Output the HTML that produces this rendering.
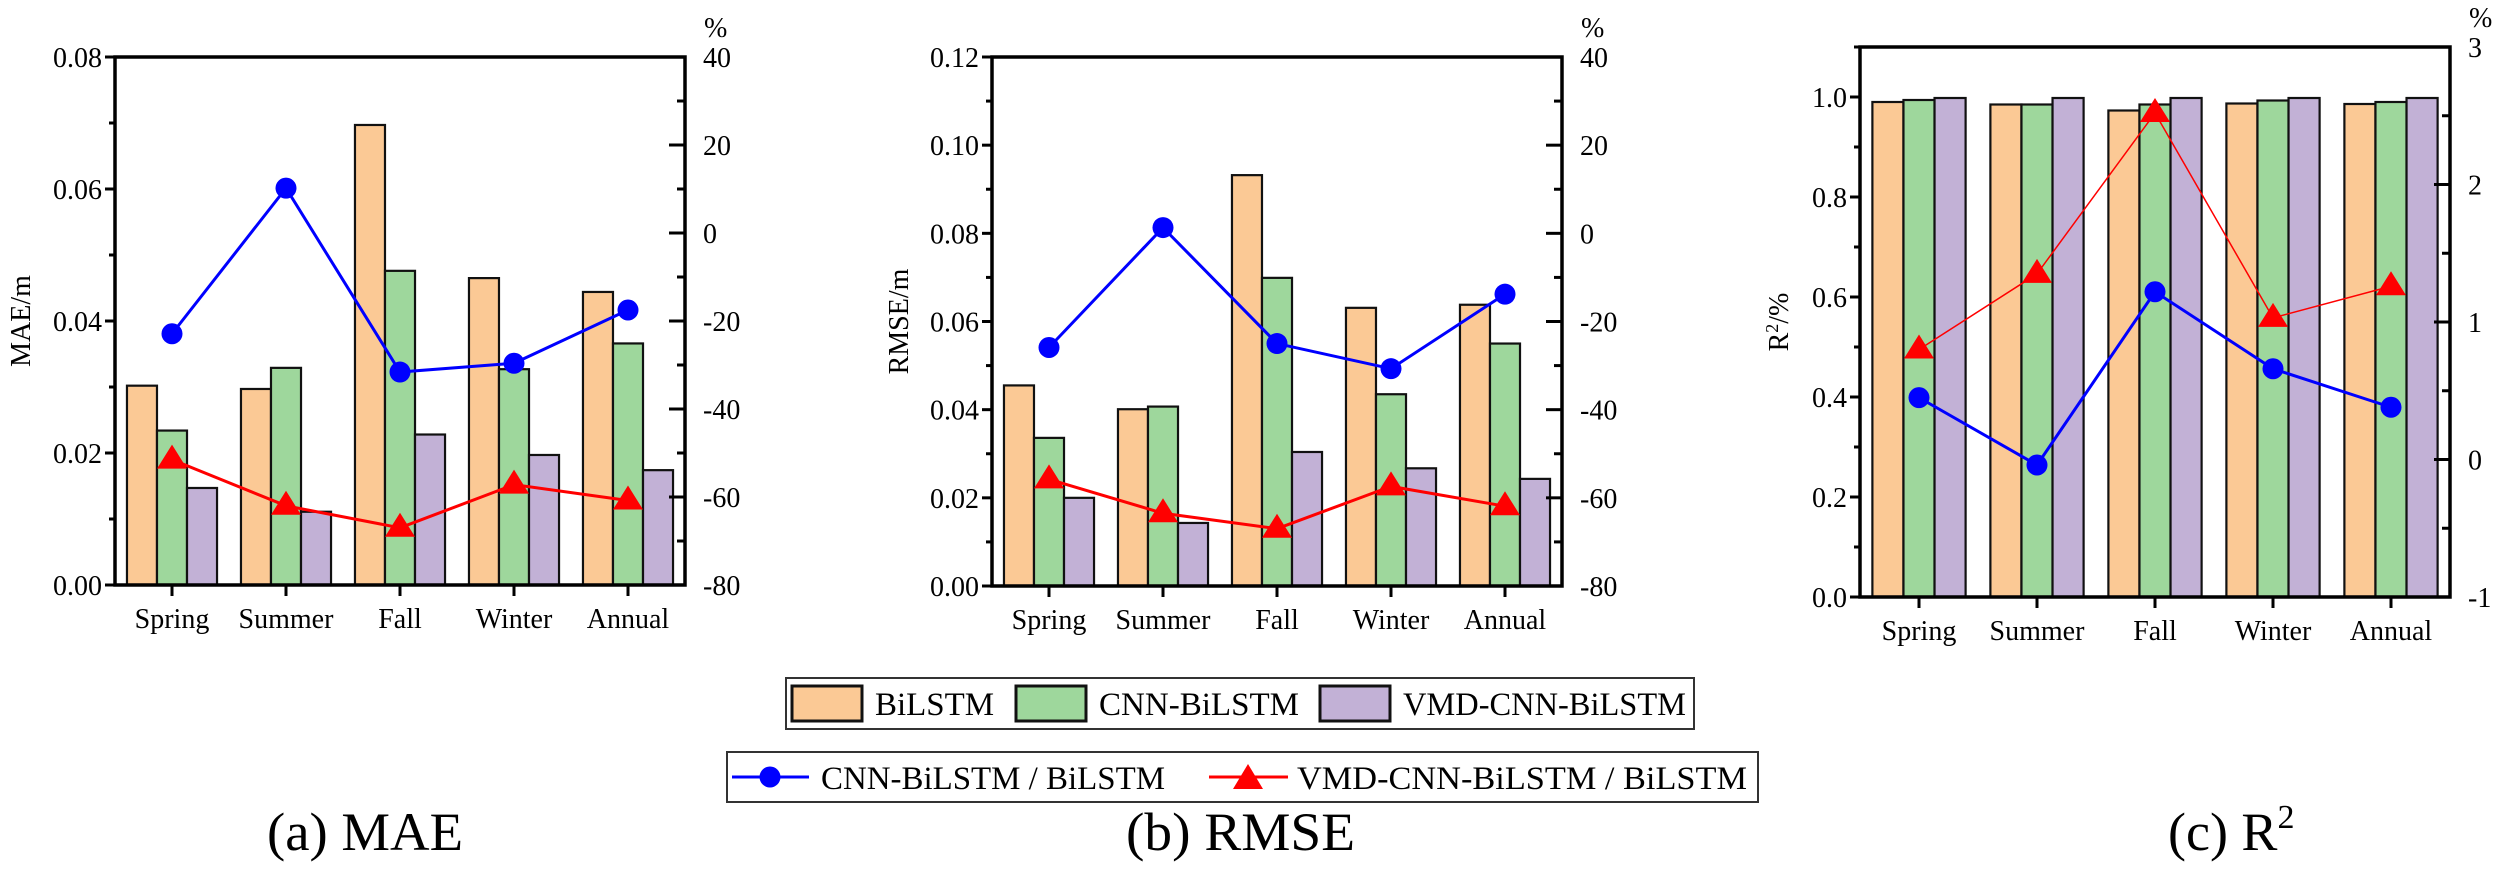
<!DOCTYPE html>
<html><head><meta charset="utf-8"><style>
html,body{margin:0;padding:0;background:#fff;}
svg, svg text{font-family:"Liberation Serif","Times New Roman",Times,serif;}
</style></head><body>
<svg id="fig" width="2500" height="880" viewBox="0 0 2500 880" xmlns="http://www.w3.org/2000/svg" font-family="Liberation Serif, Times New Roman, serif">
<g>
<rect x="786" y="678" width="908" height="51" fill="#fff" stroke="#333" stroke-width="2"/>
<rect x="792" y="686" width="70" height="35" fill="#FBC995" stroke="#111" stroke-width="3"/>
<text x="875" y="715" font-size="33" textLength="119" lengthAdjust="spacingAndGlyphs">BiLSTM</text>
<rect x="1016" y="686" width="70" height="35" fill="#9ED79C" stroke="#111" stroke-width="3"/>
<text x="1099" y="715" font-size="33" textLength="200" lengthAdjust="spacingAndGlyphs">CNN-BiLSTM</text>
<rect x="1320" y="686" width="70" height="35" fill="#C2B1D6" stroke="#111" stroke-width="3"/>
<text x="1403" y="715" font-size="33" textLength="283" lengthAdjust="spacingAndGlyphs">VMD-CNN-BiLSTM</text>
</g>
<g>
<rect x="727" y="752" width="1031" height="50" fill="#fff" stroke="#333" stroke-width="2"/>
<line x1="732" y1="777" x2="809" y2="777" stroke="#0000FF" stroke-width="3"/>
<circle cx="770" cy="777" r="10.5" fill="#0000FF"/>
<text x="821" y="789" font-size="33" textLength="344" lengthAdjust="spacingAndGlyphs">CNN-BiLSTM / BiLSTM</text>
<line x1="1209" y1="777" x2="1288" y2="777" stroke="#FF0000" stroke-width="3"/>
<polygon points="1248,764 1263,789 1233,789" fill="#FF0000"/>
<text x="1297" y="789" font-size="33" textLength="450" lengthAdjust="spacingAndGlyphs">VMD-CNN-BiLSTM / BiLSTM</text>
</g>
<text x="267" y="850" font-size="54" textLength="196" lengthAdjust="spacingAndGlyphs">(a) MAE</text>
<text x="1126" y="850" font-size="54" textLength="229" lengthAdjust="spacingAndGlyphs">(b) RMSE</text>
<text x="2168" y="850" font-size="54">(c) R<tspan font-size="34" dy="-22">2</tspan></text>
</svg>
<script>
const categories = ["Spring","Summer","Fall","Winter","Annual"];
const seriesNames = ["BiLSTM","CNN-BiLSTM","VMD-CNN-BiLSTM"];
const maeBiLSTM = [0.0302,0.0297,0.0697,0.0465,0.0444];
const maeCNN = [0.0234,0.0329,0.0476,0.0327,0.0366];
const maeVMD = [0.0147,0.0111,0.0228,0.0197,0.0174];
const maeRatioCNN = [-22.9,10.2,-31.6,-29.6,-17.5];
const maeRatioVMD = [-51.5,-62,-67,-57.2,-60.8];
const rmseBiLSTM = [0.0455,0.0401,0.0932,0.0631,0.0638];
const rmseCNN = [0.0336,0.0407,0.0699,0.0435,0.0550];
const rmseVMD = [0.0200,0.0143,0.0304,0.0267,0.0243];
const rmseRatioCNN = [-25.9,1.3,-25.0,-30.7,-13.8];
const rmseRatioVMD = [-55.8,-63.5,-67,-57.4,-61.9];
const r2BiLSTM = [0.990,0.985,0.973,0.987,0.986];
const r2CNN = [0.994,0.985,0.985,0.993,0.990];
const r2VMD = [0.998,0.998,0.998,0.998,0.998];
const r2RatioCNN = [0.45,-0.04,1.22,0.66,0.38];
const r2RatioVMD = [0.80,1.35,2.52,1.03,1.26];
const maeTicks = ["0.00","0.02","0.04","0.06","0.08"];
const rmseTicks = ["0.00","0.02","0.04","0.06","0.08","0.10","0.12"];
const r2Ticks = ["0.0","0.2","0.4","0.6","0.8","1.0"];
const pctTicksAB = ["-80","-60","-40","-20","0","20","40"];
const pctTicksC = ["-1","0","1","2","3"];

const NS="http://www.w3.org/2000/svg";
const svg=document.getElementById('fig');
const colors=["#FBC995","#9ED79C","#C2B1D6"];
function mk(tag,attrs,parent){const e=document.createElementNS(NS,tag);for(const k in attrs)e.setAttribute(k,attrs[k]);(parent||svg).appendChild(e);return e;}

function panel(cfg){
  const g=mk('g',{});
  
  
  const {L,R,T,B}=cfg;
  const band=(R-L)/categories.length;
  const xc=i=>L+band*(i+0.5);
  const y=v=>B-(v-cfg.ymin)/(cfg.ymax-cfg.ymin)*(B-T);
  const y2=v=>B-(v-cfg.y2min)/(cfg.y2max-cfg.y2min)*(B-T);
  const bw=band*0.79/3;
  const sets=[cfg.s1,cfg.s2,cfg.s3];
  sets.forEach((arr,s)=>{arr.forEach((v,i)=>{
    const x0=xc(i)-1.5*bw+s*bw;
    const r=mk('rect',{x:x0,y:y(v),width:bw,height:B-y(v),fill:colors[s],stroke:'#111','stroke-width':2.2},g);
    
    
  });});
  const fr=mk('rect',{x:L,y:T,width:R-L,height:B-T,fill:'none',stroke:'#000','stroke-width':3.5},g);
  
  
  const nT=cfg.lt.length;
  for(let k=0;k<nT;k++){
    const v=cfg.ymin+k*cfg.ystep;const yy=y(v);
    mk('line',{x1:L-10,y1:yy,x2:L,y2:yy,stroke:'#000','stroke-width':3},g);
    const t=mk('text',{x:L-13,y:yy+10,'font-size':28,'text-anchor':'end'},g);
    t.textContent=cfg.lt[k];
    
    
    if(k<nT-1){const ym=y(v+cfg.ystep/2);mk('line',{x1:L-6,y1:ym,x2:L,y2:ym,stroke:'#000','stroke-width':3},g);}
  }
  if(cfg.ymax>cfg.ymin+(nT-1)*cfg.ystep){const ym=y(cfg.ymin+(nT-0.5)*cfg.ystep);mk('line',{x1:L-6,y1:ym,x2:L,y2:ym,stroke:'#000','stroke-width':3},g);}
  const nR=cfg.rt.length;
  for(let k=0;k<nR;k++){
    const v=cfg.y2min+k*cfg.y2step;const yy=y2(v);
    mk('line',{x1:R-16,y1:yy,x2:R,y2:yy,stroke:'#000','stroke-width':3},g);
    const t=mk('text',{x:R+18,y:yy+10,'font-size':28},g);
    t.textContent=cfg.rt[k];
    
    
    if(k<nR-1){const ym=y2(v+cfg.y2step/2);mk('line',{x1:R-8,y1:ym,x2:R,y2:ym,stroke:'#000','stroke-width':3},g);}
  }
  const pc=mk('text',{x:R+19,y:T-20,'font-size':28},g);pc.textContent='%';
  
  
  categories.forEach((c,i)=>{
    mk('line',{x1:xc(i),y1:B,x2:xc(i),y2:B+11,stroke:'#000','stroke-width':3},g);
    const t=mk('text',{x:xc(i),y:B+43,'font-size':28,'text-anchor':'middle'},g);
    t.textContent=c;
    
    
  });
  const yt=mk('text',{x:cfg.tx,y:(T+B)/2,'font-size':28,'text-anchor':'middle',transform:`rotate(-90 ${cfg.tx} ${(T+B)/2})`,dy:10},g);
  if(cfg.r2){yt.innerHTML='R<tspan font-size="18" dy="-10">2</tspan><tspan dy="10">/%</tspan>';}else yt.textContent=cfg.title;
  
  
  const bp=cfg.l1.map((v,i)=>xc(i)+','+y2(v)).join(' ');
  const bl=mk('polyline',{points:bp,fill:'none',stroke:'#0000FF','stroke-width':3},g);
  
  
  const rp=cfg.l2.map((v,i)=>xc(i)+','+y2(v)).join(' ');
  const rl=mk('polyline',{points:rp,fill:'none',stroke:'#FF0000','stroke-width':cfg.redW},g);
  
  
  cfg.l1.forEach((v,i)=>{const c=mk('circle',{cx:xc(i),cy:y2(v),r:10.5,fill:'#0000FF'},g);
    
    });
  cfg.l2.forEach((v,i)=>{const cx=xc(i),cy=y2(v);
    const p=mk('polygon',{points:`${cx},${cy-15} ${cx+15},${cy+9} ${cx-15},${cy+9}`,fill:'#FF0000'},g);
    
    });
}
panel({name:'chart-mae',L:115,R:685,T:57,B:585,ymin:0,ymax:0.08,ystep:0.02,lt:maeTicks,y2min:-80,y2max:40,y2step:20,rt:pctTicksAB,
  s1:maeBiLSTM,s2:maeCNN,s3:maeVMD,l1:maeRatioCNN,l2:maeRatioVMD,tx:20,title:'MAE/m',redW:3});
panel({name:'chart-rmse',L:992,R:1562,T:57,B:586,ymin:0,ymax:0.12,ystep:0.02,lt:rmseTicks,y2min:-80,y2max:40,y2step:20,rt:pctTicksAB,
  s1:rmseBiLSTM,s2:rmseCNN,s3:rmseVMD,l1:rmseRatioCNN,l2:rmseRatioVMD,tx:898,title:'RMSE/m',redW:3});
panel({name:'chart-r2',L:1860,R:2450,T:47,B:597,ymin:0,ymax:1.1,ystep:0.2,lt:r2Ticks,y2min:-1,y2max:3,y2step:1,rt:pctTicksC,
  s1:r2BiLSTM,s2:r2CNN,s3:r2VMD,l1:r2RatioCNN,l2:r2RatioVMD,tx:1778,r2:true,redW:1.5});
</script>
</body></html>
